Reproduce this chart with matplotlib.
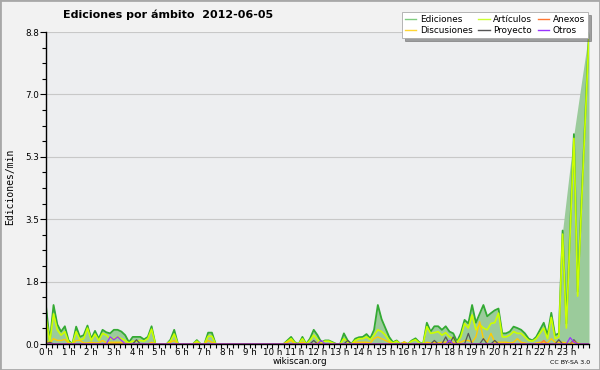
import numpy as np
import matplotlib
matplotlib.use('Agg')
import matplotlib.pyplot as plt
from matplotlib.patches import Rectangle
from matplotlib.lines import Line2D

# muestras cada 10 minutos, 00:00 -> 24:00 (145 valores)
ediciones = [
    1.07, 0.08, 1.10, 0.55, 0.35, 0.50,
    0.10, 0.00, 0.49, 0.20, 0.25, 0.52,
    0.15, 0.37, 0.15, 0.40, 0.33, 0.30,
    0.40, 0.40, 0.35, 0.25, 0.05, 0.20,
    0.20, 0.20, 0.13, 0.20, 0.50, 0.00,
    0.00, 0.00, 0.00, 0.12, 0.40, 0.00,
    0.00, 0.00, 0.00, 0.00, 0.11, 0.00,
    0.00, 0.32, 0.32, 0.00, 0.00, 0.00,
    0.00, 0.00, 0.00, 0.00, 0.00, 0.00,
    0.00, 0.00, 0.00, 0.00, 0.00, 0.00,
    0.00, 0.00, 0.00, 0.00, 0.10, 0.20,
    0.05, 0.00, 0.20, 0.00, 0.15, 0.40,
    0.25, 0.05, 0.10, 0.10, 0.05, 0.00,
    0.00, 0.30, 0.10, 0.00, 0.15, 0.19,
    0.20, 0.28, 0.16, 0.40, 1.10, 0.70,
    0.45, 0.20, 0.05, 0.10, 0.00, 0.05,
    0.00, 0.10, 0.16, 0.05, 0.00, 0.60,
    0.35, 0.50, 0.50, 0.40, 0.50, 0.35,
    0.30, 0.07, 0.30, 0.68, 0.58, 1.10,
    0.60, 0.85, 1.10, 0.78, 0.87, 0.95,
    1.00, 0.30, 0.30, 0.35, 0.49, 0.45,
    0.40, 0.30, 0.15, 0.10, 0.20, 0.40,
    0.60, 0.25, 0.88, 0.25, 0.30, 3.20,
    0.58, 3.25, 5.92, 1.48, 4.00, 6.40,
    8.80,
]
# el área rellena no baja en los valles de la última hora
ediciones_area_fin = [4.11, 5.02, 5.92, 6.65, 7.38, 8.10, 8.80]

articulos = [
    0.75, 0.05, 0.85, 0.40, 0.25, 0.35,
    0.05, 0.00, 0.35, 0.12, 0.15, 0.45,
    0.10, 0.28, 0.10, 0.30, 0.25, 0.15,
    0.15, 0.20, 0.15, 0.10, 0.03, 0.08,
    0.08, 0.10, 0.08, 0.15, 0.42, 0.00,
    0.00, 0.00, 0.00, 0.08, 0.28, 0.00,
    0.00, 0.00, 0.00, 0.00, 0.08, 0.00,
    0.00, 0.22, 0.22, 0.00, 0.00, 0.00,
    0.00, 0.00, 0.00, 0.00, 0.00, 0.00,
    0.00, 0.00, 0.00, 0.00, 0.00, 0.00,
    0.00, 0.00, 0.00, 0.00, 0.07, 0.15,
    0.03, 0.00, 0.15, 0.00, 0.10, 0.25,
    0.12, 0.03, 0.08, 0.08, 0.03, 0.00,
    0.00, 0.15, 0.05, 0.00, 0.10, 0.15,
    0.15, 0.20, 0.12, 0.25, 0.40, 0.35,
    0.25, 0.10, 0.03, 0.08, 0.00, 0.03,
    0.00, 0.08, 0.12, 0.03, 0.00, 0.49,
    0.30, 0.32, 0.35, 0.25, 0.32, 0.20,
    0.15, 0.04, 0.20, 0.58, 0.45, 0.82,
    0.40, 0.55, 0.45, 0.40, 0.58, 0.60,
    0.87, 0.20, 0.20, 0.25, 0.35, 0.30,
    0.30, 0.20, 0.10, 0.08, 0.15, 0.30,
    0.45, 0.15, 0.75, 0.15, 0.20, 3.10,
    0.45, 3.15, 5.80, 1.35, 3.90, 6.30,
    8.70,
]

discusiones = [
    0.10, 0.02, 0.15, 0.10, 0.10, 0.13,
    0.03, 0.00, 0.10, 0.10, 0.03, 0.03,
    0.05, 0.03, 0.03, 0.10, 0.03, 0.05,
    0.05, 0.05, 0.05, 0.03, 0.00, 0.00,
    0.00, 0.00, 0.00, 0.00, 0.05, 0.00,
    0.00, 0.00, 0.00, 0.05, 0.10, 0.00,
    0.00, 0.00, 0.00, 0.00, 0.03, 0.00,
    0.00, 0.10, 0.05, 0.00, 0.00, 0.00,
    0.00, 0.00, 0.00, 0.00, 0.00, 0.00,
    0.00, 0.00, 0.00, 0.00, 0.00, 0.00,
    0.00, 0.00, 0.00, 0.00, 0.05, 0.10,
    0.00, 0.00, 0.05, 0.00, 0.00, 0.00,
    0.05, 0.00, 0.00, 0.00, 0.00, 0.00,
    0.00, 0.00, 0.00, 0.00, 0.05, 0.05,
    0.05, 0.05, 0.03, 0.15, 0.20, 0.15,
    0.10, 0.05, 0.00, 0.00, 0.00, 0.06,
    0.00, 0.00, 0.00, 0.00, 0.00, 0.05,
    0.03, 0.05, 0.03, 0.05, 0.05, 0.05,
    0.05, 0.00, 0.05, 0.10, 0.10, 0.05,
    0.20, 0.63, 0.15, 0.05, 0.30, 0.05,
    0.05, 0.05, 0.05, 0.03, 0.05, 0.15,
    0.05, 0.03, 0.00, 0.00, 0.03, 0.05,
    0.05, 0.03, 0.15, 0.05, 0.05, 0.05,
    0.03, 0.00, 0.00, 0.03, 0.00, 0.00,
    0.00,
]

# series casi vacías: (índice de muestra, valor)
proyecto = {1: 0.05, 24: 0.12, 71: 0.10, 80: 0.10, 103: 0.10, 106: 0.20,
            108: 0.20, 112: 0.30, 116: 0.15, 119: 0.10, 136: 0.12, 140: 0.12}
anexos = {132: 0.10, 140: 0.08}
otros = {17: 0.20, 18: 0.12, 19: 0.20, 20: 0.10, 73: 0.10, 107: 0.10,
         139: 0.18, 140: 0.05}

y_ticks_lbl = ['0.0', '1.8', '3.5', '5.3', '7.0', '8.8']
y_max = 8.8
horas = ['%d h' % h for h in range(24)]

n = len(ediciones)
t = np.arange(n) / 6.0


def serie(puntos):
    v = np.zeros(n)
    for i, val in puntos.items():
        v[i] = val
    return v


area = np.array(ediciones[:n - len(ediciones_area_fin)] + ediciones_area_fin)

fig = plt.figure(figsize=(6, 3.7), dpi=100, facecolor='#f2f2f2')
ax = fig.add_axes([46 / 600, 26 / 370, 543 / 600, 312 / 370], facecolor='#edeef0')

c_ed = '#33aa33'
c_art = '#ccff00'
c_dis = '#ffcc00'
c_pro = '#555555'
c_anx = '#ff7733'
c_otr = '#9933ff'

ax.fill_between(t, 0, area, color='#9bcb9b', lw=0, zorder=2)
ax.plot(t, ediciones, color=c_ed, lw=1.3, zorder=3)
ax.plot(t, articulos, color=c_art, lw=1.2, zorder=4)
ax.plot(t, discusiones, color=c_dis, lw=1.0, zorder=5)
ax.plot(t, serie(proyecto), color=c_pro, lw=0.9, zorder=6)
ax.plot(t, serie(anexos), color=c_anx, lw=0.9, zorder=6)
ax.plot(t, serie(otros), color=c_otr, lw=0.9, zorder=7)

ax.set_xlim(0, 24)
ax.set_ylim(0, y_max)
yt = np.linspace(0, y_max, len(y_ticks_lbl))
ax.set_yticks(yt)
ax.set_yticklabels(y_ticks_lbl)
ax.set_yticks(np.linspace(0, y_max, 21), minor=True)
ax.set_xticks(np.arange(24))
ax.set_xticklabels(horas)
ax.set_xticks(np.arange(0, 24.01, 0.25), minor=True)
ax.grid(axis='y', color='#c8c8c8', lw=0.8, zorder=1)
ax.tick_params(axis='both', which='both', direction='out', colors='black',
               labelsize=6.3, width=0.8)
ax.tick_params(axis='y', which='major', length=4, pad=1)
ax.tick_params(axis='y', which='minor', length=3)
ax.tick_params(axis='x', which='both', length=3, pad=0)
for s in ['top', 'right']:
    ax.spines[s].set_visible(False)
for s in ['left', 'bottom']:
    ax.spines[s].set_linewidth(1.0)
    ax.spines[s].set_zorder(8)

fig.text(168 / 600, 1 - 15 / 370, 'Ediciones por ámbito  2012-06-05',
         ha='center', va='center', fontsize=8, fontweight='bold')
fig.text(10 / 600, 0.495, 'Ediciones/min', rotation=90, ha='center', va='center',
         fontsize=7, family='DejaVu Sans Mono')
fig.text(300 / 600, 1 - 362 / 370, 'wikiscan.org', ha='center', va='center',
         fontsize=6.3)
fig.text(590 / 600, 1 - 362 / 370, 'CC BY-SA 3.0', ha='right', va='center',
         fontsize=4.5)

handles = [
    Line2D([], [], color='#80cc80', lw=1), Line2D([], [], color='#ffd633', lw=1),
    Line2D([], [], color='#ccff33', lw=1), Line2D([], [], color=c_pro, lw=1),
    Line2D([], [], color=c_anx, lw=1), Line2D([], [], color=c_otr, lw=1),
]
labels = ['Ediciones', 'Discusiones', 'Artículos', 'Proyecto', 'Anexos', 'Otros']
leg = fig.legend(handles, labels, ncol=3, loc='upper right',
                 bbox_to_anchor=(588 / 600, 1 - 12 / 370), fontsize=6.4,
                 frameon=True, fancybox=False, shadow=True, edgecolor='#aaaaaa',
                 handlelength=1.3, handletextpad=0.4, columnspacing=0.6,
                 labelspacing=0.2, borderpad=0.35, borderaxespad=0)
leg.get_frame().set_linewidth(0.6)

fig.patches.append(Rectangle((0, 0), 1, 1, transform=fig.transFigure, fill=False,
                             edgecolor='#a8a8a8', lw=2))

fig.savefig('out.png', dpi=100, facecolor=fig.get_facecolor())
